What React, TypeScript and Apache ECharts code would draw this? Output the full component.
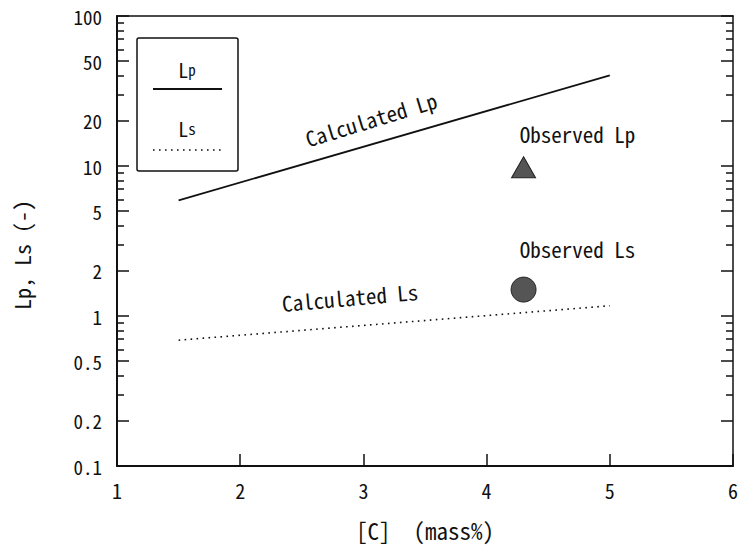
import React, { useEffect, useRef } from "react";
import * as echarts from "echarts";

// ---- data ----
const calcX = [1.5, 5];
const calcLp = [5.9, 40.2];
const calcLs = [0.69, 1.17];
const obsX = [4.3];
const obsLp = [9.8];
const obsLs = [1.5];
const xTickValues = [1, 2, 3, 4, 5, 6];
const yMajorValues = [0.1, 0.2, 0.5, 1, 2, 5, 10, 20, 50, 100];
const yMajorLabels = ["0.1", "0.2", "0.5", "1", "2", "5", "10", "20", "50", "100"];
const yMinorValues = [0.3, 0.4, 0.6, 0.7, 0.8, 0.9, 3, 4, 6, 7, 8, 9, 30, 40, 60, 70, 80, 90];

const FONT = "'Noto Sans Mono CJK JP', 'Noto Sans CJK JP', 'DejaVu Sans Mono', monospace";
const INK = "#111";

const lg = (v: number) => Math.round(Math.log10(v) * 1e9) / 1e9;

export default function App() {
  const ref = useRef<HTMLDivElement>(null);

  useEffect(() => {
    document.body.style.margin = "0";
    if (!ref.current) return;
    const chart = echarts.init(ref.current, null, { renderer: "svg" });

    const yMajorLog = yMajorValues.map(lg);
    const yMinorLog = yMinorValues.map(lg);
    const labelFor = (v: number) => {
      const i = yMajorLog.findIndex((m) => Math.abs(m - v) < 1e-6);
      return i >= 0 ? yMajorLabels[i] : "";
    };

    const hidden = { show: false };
    const deco = (position: "left" | "right", ticks: number[], len: number, withLabels: boolean, extra: any = {}) => ({
      type: "value",
      min: -1,
      max: 2,
      position,
      axisLine: { show: false, onZero: false },
      axisTick: {
        show: true,
        inside: true,
        length: len,
        customValues: ticks,
        lineStyle: { color: INK, width: 1.5 },
      },
      axisLabel: withLabels
        ? {
            show: true,
            customValues: ticks,
            formatter: (v: number) => labelFor(v),
            margin: 15,
            fontSize: 19,
            fontFamily: FONT,
            color: INK,
          }
        : hidden,
      splitLine: hidden,
      ...extra,
    });

    chart.setOption({
      animation: false,
      backgroundColor: "#fff",
      grid: { left: 117, top: 16, width: 618, height: 450 },
      xAxis: [
        {
          type: "value",
          min: xTickValues[0],
          max: xTickValues[xTickValues.length - 1],
          interval: 1,
          position: "bottom",
          axisLine: { onZero: false, lineStyle: { color: INK, width: 2 } },
          axisTick: { inside: true, length: 12, lineStyle: { color: INK, width: 1.5 } },
          axisLabel: { margin: 14, fontSize: 20, fontFamily: FONT, color: INK },
          splitLine: hidden,
          name: "[C]  (mass%)",
          nameLocation: "middle",
          nameGap: 52,
          nameTextStyle: { fontSize: 23, fontFamily: FONT, color: INK },
        },
        {
          type: "value",
          min: 1,
          max: 6,
          position: "top",
          axisLine: { onZero: false, lineStyle: { color: INK, width: 1.5 } },
          axisTick: hidden,
          axisLabel: hidden,
          splitLine: hidden,
        },
      ],
      yAxis: [
        {
          type: "log",
          logBase: 10,
          min: 0.1,
          max: 100,
          position: "left",
          axisLine: { show: true, onZero: false, lineStyle: { color: INK, width: 2 } },
          axisTick: hidden,
          axisLabel: hidden,
          splitLine: hidden,
          minorTick: hidden,
        },
        deco("left", yMajorLog, 12, true, {
          name: "Lp, Ls (-)",
          nameLocation: "middle",
          nameRotate: 90,
          nameGap: 85,
          nameTextStyle: { fontSize: 22, fontFamily: FONT, color: INK, padding: [0, 28, 0, 0] },
        }),
        deco("left", yMinorLog, 7, false),
        deco("right", yMajorLog, 12, false, {
          axisLine: { show: true, onZero: false, lineStyle: { color: INK, width: 1.5 } },
        }),
        deco("right", yMinorLog, 7, false),
      ],
      series: [
        {
          type: "line",
          name: "Calculated Lp",
          xAxisIndex: 0,
          yAxisIndex: 0,
          data: calcX.map((x, i) => [x, calcLp[i]]),
          symbol: "none",
          silent: true,
          lineStyle: { color: INK, width: 1.8 },
        },
        {
          type: "line",
          name: "Calculated Ls",
          xAxisIndex: 0,
          yAxisIndex: 0,
          data: calcX.map((x, i) => [x, calcLs[i]]),
          symbol: "none",
          silent: true,
          lineStyle: { color: INK, width: 1.6, type: [1.6, 4.4] },
        },
        {
          type: "scatter",
          name: "Observed Lp",
          xAxisIndex: 0,
          yAxisIndex: 0,
          data: obsX.map((x, i) => [x, obsLp[i]]),
          symbol: "triangle",
          symbolSize: [24, 21],
          silent: true,
          itemStyle: { color: "#555", borderColor: "#222", borderWidth: 1, opacity: 1 },
          label: {
            show: true,
            formatter: "Observed Lp",
            position: "top",
            offset: [54, -7],
            fontSize: 21,
            fontFamily: FONT,
            color: INK,
          },
        },
        {
          type: "scatter",
          name: "Observed Ls",
          xAxisIndex: 0,
          yAxisIndex: 0,
          data: obsX.map((x, i) => [x, obsLs[i]]),
          symbol: "circle",
          symbolSize: 25,
          silent: true,
          itemStyle: { color: "#555", borderColor: "#222", borderWidth: 1, opacity: 1 },
          label: {
            show: true,
            formatter: "Observed Ls",
            position: "top",
            offset: [54, -12],
            fontSize: 21,
            fontFamily: FONT,
            color: INK,
          },
        },
      ],
      graphic: [
        {
          type: "rect",
          shape: { x: 137, y: 38, width: 101, height: 133, r: 2 },
          style: { fill: "#fff", stroke: INK, lineWidth: 1.5 },
          z: 10,
        },
        {
          type: "text",
          x: 187,
          y: 69,
          z: 11,
          style: {
            text: "{a|L}{b|p}",
            align: "center",
            verticalAlign: "middle",
            rich: {
              a: { fontSize: 20, fontFamily: FONT, fill: INK },
              b: { fontSize: 15, fontFamily: FONT, fill: INK },
            },
          },
        },
        {
          type: "line",
          z: 11,
          shape: { x1: 153, y1: 89, x2: 222, y2: 89 },
          style: { stroke: INK, lineWidth: 1.8 },
        },
        {
          type: "text",
          x: 187,
          y: 128,
          z: 11,
          style: {
            text: "{a|L}{b|s}",
            align: "center",
            verticalAlign: "middle",
            rich: {
              a: { fontSize: 20, fontFamily: FONT, fill: INK },
              b: { fontSize: 15, fontFamily: FONT, fill: INK },
            },
          },
        },
        {
          type: "line",
          z: 11,
          shape: { x1: 153, y1: 150, x2: 222, y2: 150 },
          style: { stroke: INK, lineWidth: 1.6, lineDash: [1.6, 4.4] },
        },
        {
          type: "text",
          x: 371,
          y: 119,
          rotation: (17 * Math.PI) / 180,
          style: {
            text: "Calculated Lp",
            align: "center",
            verticalAlign: "middle",
            fontSize: 21,
            fontFamily: FONT,
            fill: INK,
          },
        },
        {
          type: "text",
          x: 350,
          y: 297,
          rotation: (5 * Math.PI) / 180,
          style: {
            text: "Calculated Ls",
            align: "center",
            verticalAlign: "middle",
            fontSize: 21,
            fontFamily: FONT,
            fill: INK,
          },
        },
      ],
    });

    return () => chart.dispose();
  }, []);

  return <div ref={ref} style={{ width: 741, height: 549 }} />;
}
